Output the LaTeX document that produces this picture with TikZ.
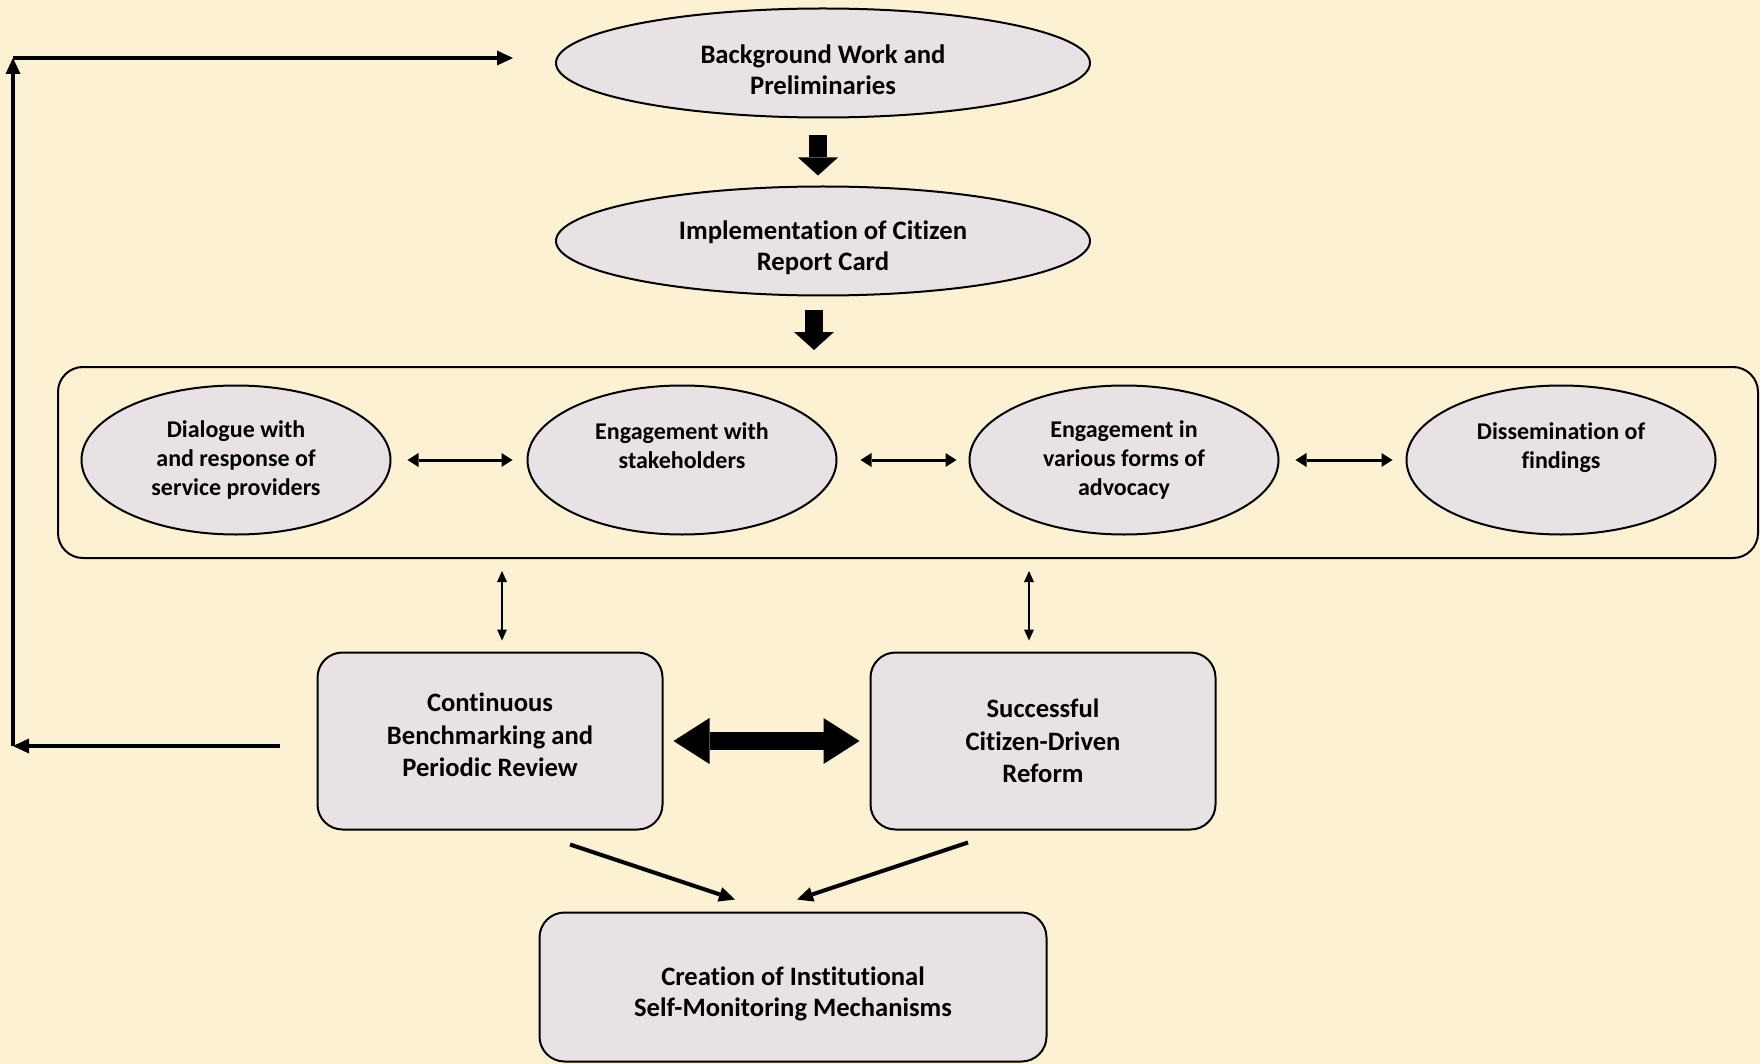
\documentclass[tikz,border=0pt]{standalone}
\usepackage{fontspec}
\setmainfont{Carlito}[Ligatures=CommonOff]
\usetikzlibrary{positioning,arrows.meta,shapes.geometric}
\definecolor{parch}{HTML}{FCF2D3}
\definecolor{lav}{HTML}{E9E2E5}
\newcommand{\uppad}{\rule{0pt}{32pt}}
\newcommand{\lowpad}{\rule[-12pt]{0pt}{12pt}}

\begin{document}
\begin{tikzpicture}[x=1pt,y=-1pt,on grid,
    every node/.style={align=center,font=\bfseries},
    stage/.style={ellipse,draw,line width=2pt,fill=lav,inner sep=0pt,
        minimum width=534pt,minimum height=109pt,font=\fontsize{26.7}{31}\selectfont\bfseries},
    task/.style={ellipse,draw,line width=2pt,fill=lav,inner sep=0pt,
        minimum width=309pt,minimum height=149pt,font=\fontsize{24}{29}\selectfont\bfseries},
    outcome/.style={rectangle,rounded corners=25pt,draw,line width=2pt,fill=lav,
        minimum width=345pt,minimum height=177pt,font=\fontsize{26.6}{32.5}\selectfont\bfseries},
    blockdown/.style={line width=18pt,-{Triangle[length=18pt,width=40pt,line width=0pt]}},
    fatpair/.style={line width=18pt,{Triangle[length=36pt,width=46pt,line width=0pt]}-{Triangle[length=36pt,width=46pt,line width=0pt]}},
    pair/.style={line width=3pt,{Triangle[length=11pt,width=14pt,line width=0pt]}-{Triangle[length=11pt,width=14pt,line width=0pt]}},
    thinpair/.style={line width=2pt,{Triangle[length=11pt,width=10pt,line width=0pt]}-{Triangle[length=11pt,width=10pt,line width=0pt]}},
    feed/.style={line width=4pt,-{Triangle[length=16pt,width=15pt,line width=0pt]}}]

    \fill[parch] (0,0) rectangle (1760,1064);
    \useasboundingbox (0,0) rectangle (1760,1064);

    % main chain
    \node[stage] (bg) at (823,63) {\uppad Background Work and\\Preliminaries};
    \node[stage, below=178pt of bg] (impl) {\uppad Implementation of Citizen\\Report Card};

    % activities
    \node[draw,line width=2pt,rounded corners=25pt,minimum width=1700pt,minimum height=191pt] (frame) at (908,462.5) {};
    \node[task] (e1) at (236,460) {Dialogue with\\and response of\\service providers};
    \node[task, right=446pt of e1] (e2) {Engagement with\\stakeholders\\\mbox{}};
    \node[task, right=442pt of e2] (e3) {Engagement in\\various forms of\\advocacy};
    \node[task, right=437pt of e3] (e4) {Dissemination of\\findings\\\mbox{}};

    % outcomes
    \node[outcome] (bench) at (490,741) {Continuous\\Benchmarking and\\Periodic Review\lowpad};
    \node[outcome, right=553pt of bench] (reform) {Successful\\Citizen-Driven\\Reform};
    \node[outcome, minimum width=507pt, minimum height=149pt,
          font=\fontsize{26.6}{31}\selectfont\bfseries] (mech) at (793,987) {\uppad Creation of Institutional\\Self-Monitoring Mechanisms};

    \draw[blockdown, shorten <=17pt, shorten >=10pt] ([xshift=-5pt]bg.south) -- ([xshift=-5pt]impl.north);
    \draw[blockdown, shorten <=14pt, shorten >=16pt] ([xshift=-9pt]impl.south) -- ([xshift=-9pt]impl.south |- frame.north);

    \draw[pair, shorten <=16pt, shorten >=14pt] (e1.east) -- (e2.west);
    \draw[pair, shorten <=23pt, shorten >=12pt] (e2.east) -- (e3.west);
    \draw[pair, shorten <=16pt, shorten >=13pt] (e3.east) -- (e4.west);

    \draw[thinpair, shorten <=12pt, shorten >=11pt] ([xshift=12pt]bench.north |- frame.south) -- ([xshift=12pt]bench.north);
    \draw[thinpair, shorten <=12pt, shorten >=11pt] ([xshift=-14pt]reform.north |- frame.south) -- ([xshift=-14pt]reform.north);

    \draw[fatpair, shorten <=10pt, shorten >=10pt] (bench.east) -- (reform.west);

    \draw[feed] ([shift={(80,14)}]bench.south) -- ([shift={(-58,-12)}]mech.north);
    \draw[feed] ([shift={(-75,12)}]reform.south) -- ([shift={(4,-12)}]mech.north);

    % feedback loop
    \coordinate (c1) at (13,746);
    \coordinate (c2) at (13,58);
    \draw[feed] ([shift={(-37,5)}]bench.west) -- (c1);
    \draw[feed] (c1) -- (c2);
    \draw[feed] (c2) -- ([shift={(-42,-5)}]bg.west);
\end{tikzpicture}
\end{document}
